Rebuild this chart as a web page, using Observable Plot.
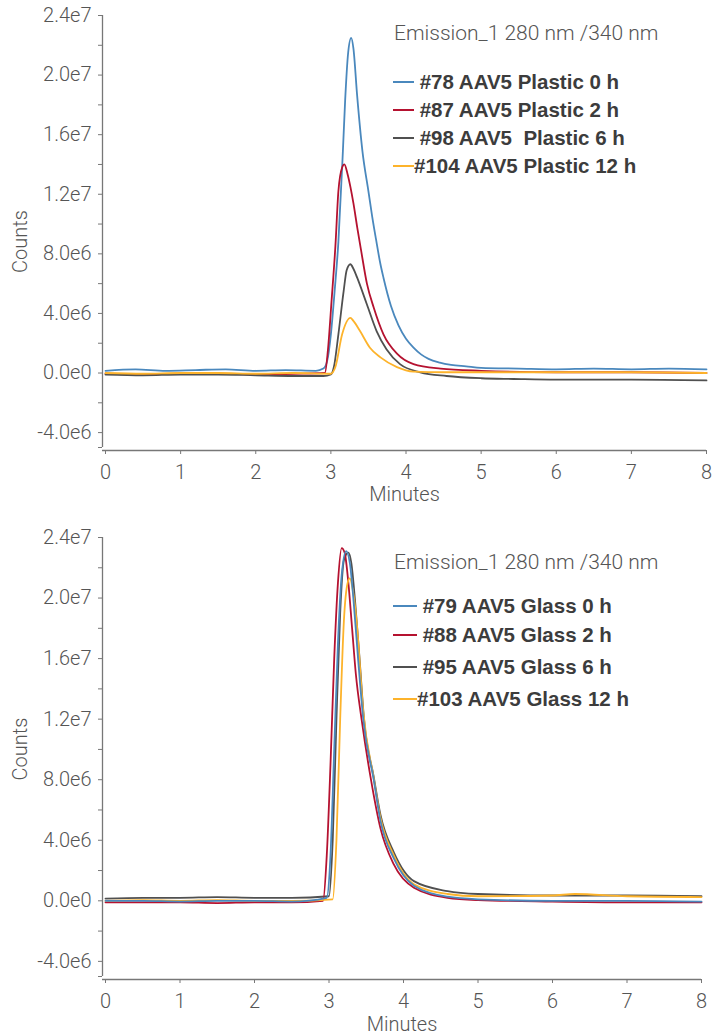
<!DOCTYPE html>
<html>
<head>
<meta charset="utf-8">
<script src="https://cdn.jsdelivr.net/npm/d3@7"></script>
<script src="https://cdn.jsdelivr.net/npm/@observablehq/plot@0.6"></script>
<style>
  body { margin: 0; background: #fff; }
  .panel { position: relative; width: 726px; height: 518px; overflow: hidden; }
  .legend { position: absolute; font-family: "Liberation Sans", Arial, sans-serif; }
  .legend .title { position: absolute; white-space: pre; font-family: Roboto, "Liberation Sans", sans-serif; font-weight: 300; font-size: 21px; color: #555; line-height: 20px; }
  .legend .row { position: absolute; white-space: pre; font-weight: bold; font-size: 20.5px; color: #3c3c3c; line-height: 20px; }
  .legend .swatch { position: absolute; }
</style>
</head>
<body>
<div id="top" class="panel"></div>
<div id="bottom" class="panel"></div>
<script>
// ---------- tick values and labels ----------
const xTicks = [0, 1, 2, 3, 4, 5, 6, 7, 8];
const yTicks = [-4e6, 0, 4e6, 8e6, 12e6, 16e6, 20e6, 24e6];
const yTickLabels = ["-4.0e6", "0.0e0", "4.0e6", "8.0e6", "1.2e7", "1.6e7", "2.0e7", "2.4e7"];
const yMinorTicks = [-5e6, -2e6, 2e6, 6e6, 10e6, 14e6, 18e6, 22e6];
const xDomain = [0, 8];
const yDomain = [-5e6, 2.4e7];

const colors = ["#4a88bd", "#b51230", "#505050", "#fdb32b"];
const detector = "Emission_1 280 nm /340 nm";

// ---------- Plastic panel (values in millions of counts) ----------
const plasticNames = [" #78 AAV5 Plastic 0 h", " #87 AAV5 Plastic 2 h", " #98 AAV5  Plastic 6 h", "#104 AAV5 Plastic 12 h"];

const plastic0_t = [0, 0.4, 0.8, 1.2, 1.6, 2.0, 2.4, 2.8, 2.9, 2.95, 3.0, 3.05, 3.1, 3.16, 3.19, 3.23, 3.27, 3.3, 3.35, 3.42, 3.5, 3.55, 3.6, 3.66, 3.7, 3.8, 3.9, 4.0, 4.1, 4.2, 4.3, 4.45, 4.6, 4.8, 5.0, 5.5, 6.0, 6.5, 7.0, 7.5, 8.0];
const plastic0_v = [0.15, 0.25, 0.15, 0.2, 0.25, 0.15, 0.2, 0.15, 0.3, 0.8, 2.6, 5.5, 8.8, 14.9, 18.3, 21.5, 22.5, 21.8, 18.6, 14.9, 12.2, 10.5, 9.0, 7.3, 6.4, 4.5, 3.2, 2.3, 1.7, 1.25, 0.95, 0.7, 0.55, 0.45, 0.35, 0.3, 0.25, 0.3, 0.25, 0.3, 0.25];

const plastic2_t = [0, 0.5, 1.0, 1.5, 2.0, 2.5, 2.92, 2.96, 3.01, 3.06, 3.1, 3.15, 3.18, 3.22, 3.26, 3.3, 3.35, 3.4, 3.48, 3.57, 3.7, 3.88, 4.1, 4.46, 5.0, 6.0, 7.0, 8.0];
const plastic2_v = [-0.05, -0.1, -0.05, -0.05, -0.1, -0.05, 0.0, 1.5, 4.9, 8.5, 12.2, 13.8, 14.0, 13.4, 12.5, 11.4, 9.8, 8.3, 6.0, 4.4, 2.6, 1.3, 0.6, 0.3, 0.15, 0.05, 0.05, 0.0];

const plastic6_t = [0, 0.5, 1.0, 1.5, 2.0, 2.5, 2.9, 3.0, 3.04, 3.1, 3.17, 3.21, 3.26, 3.3, 3.35, 3.48, 3.61, 3.74, 3.92, 4.19, 4.54, 5.0, 5.43, 6.0, 7.0, 8.0];
const plastic6_v = [-0.1, -0.15, -0.1, -0.1, -0.15, -0.2, -0.2, -0.1, 0.4, 2.6, 5.5, 6.9, 7.3, 7.0, 6.4, 4.6, 2.8, 1.6, 0.6, 0.05, -0.2, -0.35, -0.4, -0.45, -0.45, -0.5];

const plastic12_t = [0, 0.5, 1.0, 1.5, 2.0, 2.5, 3.0, 3.06, 3.15, 3.26, 3.3, 3.39, 3.52, 3.66, 3.88, 4.1, 4.5, 5.0, 6.0, 7.0, 8.0];
const plastic12_v = [0.0, -0.05, 0.0, 0.0, -0.05, 0.0, -0.05, 0.4, 2.6, 3.7, 3.5, 2.8, 1.7, 1.05, 0.4, 0.1, 0.05, 0.05, 0.05, 0.05, 0.0];

// ---------- Glass panel (values in millions of counts) ----------
const glassNames = [" #79 AAV5 Glass 0 h", " #88 AAV5 Glass 2 h", " #95 AAV5 Glass 6 h", "#103 AAV5 Glass 12 h"];

const glass0_t = [0, 0.5, 1.0, 1.5, 2.0, 2.5, 2.97, 3.02, 3.07, 3.12, 3.17, 3.23, 3.28, 3.33, 3.39, 3.46, 3.6, 3.69, 3.87, 4.14, 4.59, 5.0, 6.0, 7.0, 8.0];
const glass0_v = [0.0, 0.0, -0.05, 0.0, 0.0, -0.05, 0.2, 3.0, 10.0, 17.0, 21.5, 23.1, 22.3, 19.8, 16.0, 12.0, 8.0, 5.3, 2.8, 1.0, 0.27, 0.1, 0.0, 0.0, -0.05];

const glass2_t = [0, 0.5, 1.0, 1.5, 2.0, 2.5, 2.92, 2.97, 3.02, 3.07, 3.12, 3.17, 3.21, 3.26, 3.31, 3.36, 3.44, 3.56, 3.69, 3.87, 4.14, 4.59, 5.0, 6.0, 7.0, 8.0];
const glass2_v = [-0.1, -0.1, -0.1, -0.15, -0.1, -0.1, 0.0, 3.0, 9.0, 16.0, 21.0, 23.3, 23.0, 21.0, 18.0, 15.0, 11.9, 8.1, 4.8, 2.4, 0.86, 0.2, 0.05, -0.05, -0.1, -0.1];

const glass6_t = [0, 0.5, 1.0, 1.5, 2.0, 2.5, 3.0, 3.05, 3.1, 3.15, 3.2, 3.26, 3.3, 3.35, 3.41, 3.47, 3.6, 3.69, 3.87, 4.14, 4.59, 5.0, 6.0, 7.0, 8.0];
const glass6_v = [0.15, 0.2, 0.2, 0.25, 0.2, 0.2, 0.3, 4.0, 12.0, 19.0, 22.5, 23.0, 22.3, 19.8, 16.0, 12.0, 8.2, 5.7, 3.2, 1.3, 0.64, 0.45, 0.35, 0.35, 0.3];

const glass12_t = [0, 0.5, 1.0, 1.5, 2.0, 2.5, 3.05, 3.1, 3.15, 3.2, 3.25, 3.28, 3.32, 3.37, 3.46, 3.6, 3.69, 3.87, 4.14, 4.59, 5.0, 6.0, 6.3, 7.0, 8.0];
const glass12_v = [0.0, 0.05, 0.0, 0.05, 0.0, 0.0, 0.1, 4.0, 12.0, 18.5, 21.0, 21.3, 20.5, 18.5, 12.5, 8.1, 5.5, 3.0, 1.1, 0.45, 0.3, 0.35, 0.45, 0.3, 0.25];

function rows(t, v, s) { return t.map((d, i) => ({ t: d, v: v[i] * 1e6, s })); }

const plasticSeries = [
  rows(plastic0_t, plastic0_v, 0), rows(plastic2_t, plastic2_v, 1),
  rows(plastic6_t, plastic6_v, 2), rows(plastic12_t, plastic12_v, 3)
];
const glassSeries = [
  rows(glass0_t, glass0_v, 0), rows(glass2_t, glass2_v, 1),
  rows(glass6_t, glass6_v, 2), rows(glass12_t, glass12_v, 3)
];

const axisColor = "#777";
const textColor = "#555";

function panel(el, series, order, names, cfg) {
  const W = 726, H = 518;
  const lines = order.map(k => Plot.line(series[k], {
    x: "t", y: "v", stroke: colors[k], strokeWidth: 1.8, curve: "monotone-x"
  }));
  const plot = Plot.plot({
    width: W, height: H,
    marginLeft: 102, marginRight: W - cfg.x8, marginTop: cfg.top, marginBottom: H - cfg.yBottom,
    x: { domain: xDomain, range: [105, cfg.x8] },
    y: { domain: yDomain, range: [cfg.yBottom, cfg.top] },
    style: { fontFamily: "Roboto, 'Liberation Sans', sans-serif", fontSize: "20px", fontWeight: 300, color: textColor, background: "#fff" },
    marks: [
      ...lines,
      Plot.ruleX([xDomain[0]], { dx: -3, stroke: axisColor, strokeWidth: 1.3 }),
      Plot.ruleY([yDomain[0]], { dy: 3, stroke: axisColor, strokeWidth: 1.3 }),
      Plot.axisY(yTicks, { anchor: "left", tickSize: 4, tickPadding: 7, stroke: axisColor, fill: textColor, tickFormat: d => yTickLabels[yTicks.indexOf(d)], label: null }),
      Plot.axisY(yMinorTicks, { anchor: "left", tickSize: 4, stroke: axisColor, tickFormat: () => "", label: null }),
      Plot.axisX(xTicks, { anchor: "bottom", tickSize: 4, tickPadding: 10, dy: 3, stroke: axisColor, fill: textColor, tickFormat: d => String(d), label: null }),
      Plot.text(["Counts"], { frameAnchor: "left", rotate: -90, textAnchor: "middle", lineAnchor: "middle", dx: -82, dy: cfg.countsDy, fill: textColor }),
      Plot.text(["Minutes"], { frameAnchor: "bottom", textAnchor: "middle", lineAnchor: "middle", dy: cfg.minutesDy, fill: textColor })
    ]
  });
  el.appendChild(plot);

  const lg = document.createElement("div");
  lg.className = "legend";
  lg.style.left = "0px"; lg.style.top = "0px";
  const title = document.createElement("div");
  title.className = "title";
  title.textContent = detector;
  title.style.left = "394px"; title.style.top = (cfg.titleY - 10) + "px";
  lg.appendChild(title);
  names.forEach((n, i) => {
    const y = cfg.rowY[i];
    const sw = document.createElement("div");
    sw.className = "swatch";
    sw.style.left = "393px"; sw.style.width = cfg.swW + "px";
    sw.style.top = (y - cfg.swH / 2) + "px"; sw.style.height = cfg.swH + "px";
    sw.style.background = colors[i];
    lg.appendChild(sw);
    const r = document.createElement("div");
    r.className = "row";
    r.textContent = n;
    r.style.left = (393 + cfg.swW) + "px"; r.style.top = (y - 10) + "px";
    lg.appendChild(r);
  });
  el.appendChild(lg);
}

panel(document.getElementById("top"), plasticSeries, [0, 1, 2, 3], plasticNames, {
  top: 15, yBottom: 447, x8: 706, countsDy: 10, minutesDy: 47,
  titleY: 33, rowY: [82, 110, 138, 166], swW: 21, swH: 1.5
});
panel(document.getElementById("bottom"), glassSeries, [2, 1, 3, 0], glassNames, {
  top: 19, yBottom: 458, x8: 701, countsDy: -8, minutesDy: 48,
  titleY: 44, rowY: [88, 117, 149, 181], swW: 24, swH: 2
});
</script>
</body>
</html>
